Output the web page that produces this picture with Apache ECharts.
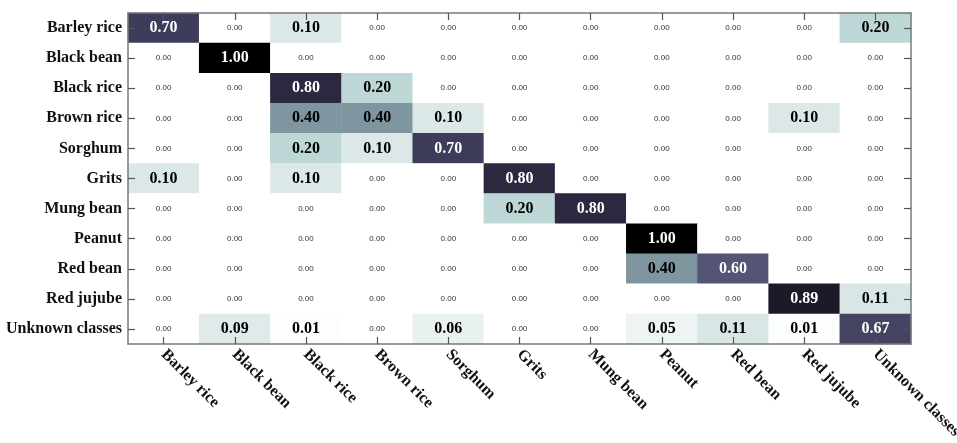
<!DOCTYPE html>
<html>
<head>
<meta charset="utf-8">
<script src="https://cdn.jsdelivr.net/npm/echarts@6/dist/echarts.min.js"></script>
<style>
html,body{margin:0;padding:0;background:#fff;}
#c{width:957px;height:443px;}
</style>
</head>
<body>
<div id="c"></div>
<script>
var categories = ['Barley rice','Black bean','Black rice','Brown rice','Sorghum','Grits','Mung bean','Peanut','Red bean','Red jujube','Unknown classes'];
var rowBarleyRice   = [0.70,0.00,0.10,0.00,0.00,0.00,0.00,0.00,0.00,0.00,0.20];
var rowBlackBean    = [0.00,1.00,0.00,0.00,0.00,0.00,0.00,0.00,0.00,0.00,0.00];
var rowBlackRice    = [0.00,0.00,0.80,0.20,0.00,0.00,0.00,0.00,0.00,0.00,0.00];
var rowBrownRice    = [0.00,0.00,0.40,0.40,0.10,0.00,0.00,0.00,0.00,0.10,0.00];
var rowSorghum      = [0.00,0.00,0.20,0.10,0.70,0.00,0.00,0.00,0.00,0.00,0.00];
var rowGrits        = [0.10,0.00,0.10,0.00,0.00,0.80,0.00,0.00,0.00,0.00,0.00];
var rowMungBean     = [0.00,0.00,0.00,0.00,0.00,0.20,0.80,0.00,0.00,0.00,0.00];
var rowPeanut       = [0.00,0.00,0.00,0.00,0.00,0.00,0.00,1.00,0.00,0.00,0.00];
var rowRedBean      = [0.00,0.00,0.00,0.00,0.00,0.00,0.00,0.40,0.60,0.00,0.00];
var rowRedJujube    = [0.00,0.00,0.00,0.00,0.00,0.00,0.00,0.00,0.00,0.89,0.11];
var rowUnknown      = [0.00,0.09,0.01,0.00,0.06,0.00,0.00,0.05,0.11,0.01,0.67];

var rows = [rowBarleyRice,rowBlackBean,rowBlackRice,rowBrownRice,rowSorghum,rowGrits,rowMungBean,rowPeanut,rowRedBean,rowRedJujube,rowUnknown];
var data = [];
rows.forEach(function(r, yi){
  r.forEach(function(v, xi){ data.push([xi, yi, v]); });
});

var chart = echarts.init(document.getElementById('c'));
var axisLineStyle = {color:'#7a7a7a', width:1.5};
var tickStyle = {color:'#555', width:1.2};
var catLabel = {fontFamily:'Liberation Serif', fontWeight:'bold', fontSize:16, color:'#111'};
chart.setOption({
  animation:false,
  grid:{left:128, top:13, right:46, bottom:99, containLabel:false, outerBoundsMode:'none'},
  xAxis:[{
    type:'category', data:categories, position:'bottom', z:10,
    axisLine:{lineStyle:axisLineStyle},
    axisTick:{show:true, inside:true, alignWithLabel:true, interval:0, length:7, lineStyle:tickStyle},
    axisLabel:Object.assign({rotate:-45, margin:8, interval:0}, catLabel),
    splitLine:{show:false}
  },{
    type:'category', data:categories, position:'top', z:10,
    axisLine:{lineStyle:axisLineStyle},
    axisTick:{show:true, inside:true, alignWithLabel:true, interval:0, length:7, lineStyle:tickStyle},
    axisLabel:{show:false}
  }],
  yAxis:[{
    type:'category', data:categories, inverse:true, position:'left', z:10,
    axisLine:{lineStyle:axisLineStyle},
    axisTick:{show:true, inside:true, alignWithLabel:true, interval:0, length:7, lineStyle:tickStyle},
    axisLabel:Object.assign({margin:6, interval:0}, catLabel)
  },{
    type:'category', data:categories, inverse:true, position:'right', z:10,
    axisLine:{lineStyle:axisLineStyle},
    axisTick:{show:true, inside:true, alignWithLabel:true, interval:0, length:7, lineStyle:tickStyle},
    axisLabel:{show:false}
  }],
  visualMap:{
    show:false, min:0, max:1, dimension:2, seriesIndex:0,
    inRange:{color:['#ffffff','#dce8e8','#bdd6d6','#9eb6bb','#7f96a0','#69708a','#545474','#3d3c5a','#2b2840','#1a1826','#000000']}
  },
  series:[{
    type:'heatmap', data:data, xAxisIndex:0, yAxisIndex:0, z:1,
    label:{
      show:true,
      formatter:function(p){
        var v = p.value[2];
        var s = v.toFixed(2);
        if (v === 0) return '{z|' + s + '}';
        if (v >= 0.5) return '{w|' + s + '}';
        return '{b|' + s + '}';
      },
      rich:{
        z:{fontFamily:'Liberation Sans', fontSize:8, color:'#333'},
        b:{fontFamily:'Liberation Serif', fontWeight:'bold', fontSize:16, color:'#000'},
        w:{fontFamily:'Liberation Serif', fontWeight:'bold', fontSize:16, color:'#fff'}
      }
    },
    itemStyle:{borderWidth:0}
  }]
});
</script>
</body>
</html>
